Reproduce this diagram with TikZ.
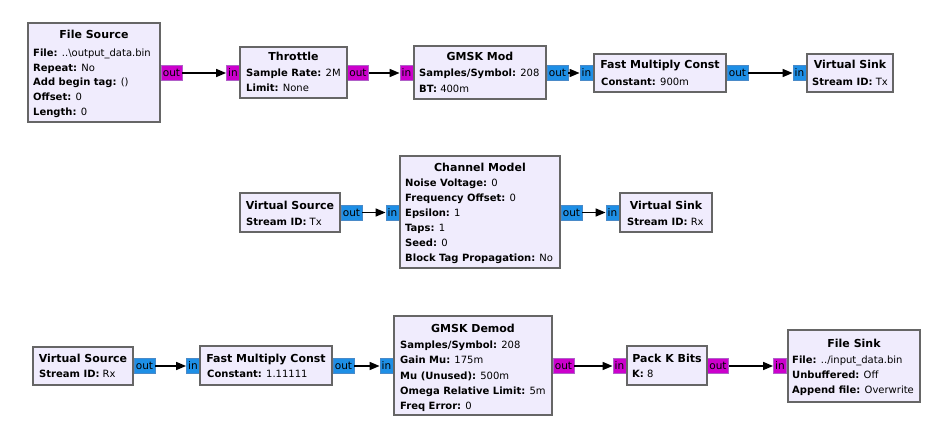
\documentclass[tikz,border=0pt]{standalone}
\usepackage{fontspec}
\setmainfont{DejaVu Sans}
\usetikzlibrary{fit,arrows.meta}
\definecolor{blkfill}{HTML}{F0ECFD}
\definecolor{blkdraw}{HTML}{666666}
\definecolor{bytefill}{HTML}{CC00CC}
\definecolor{bytedraw}{HTML}{B060C8}
\definecolor{cpxfill}{HTML}{1E8FE6}
\definecolor{cpxdraw}{HTML}{4A8AC8}
\newcommand{\pline}[5]{\node[prm] (#1) at (#2,#3+3.6) {\textbf{#4:} #5};}
\newcommand{\btitle}[4]{\node[ttl] (#1) at (#2,#3+4) {#4};}
\tikzset{
  blk/.style={draw=blkdraw, line width=1.8pt, fill=blkfill, inner sep=0pt},
  ttl/.style={font=\fontsize{11}{13}\selectfont\bfseries, anchor=base, inner sep=0pt},
  prm/.style={font=\fontsize{10}{12}\selectfont, anchor=base west, inner sep=0pt},
  portbase/.style={minimum height=15pt, inner sep=0pt, line width=0.8pt, font=\fontsize{10.5}{12}\selectfont},
  pi/.style={portbase, minimum width=13pt},
  po/.style={portbase, minimum width=21pt},
  bytep/.style={fill=bytefill, draw=bytedraw},
  cpxp/.style={fill=cpxfill, draw=cpxdraw},
  conn/.style={line width=1.6pt, -{Triangle[length=10pt,width=8pt]}}
}
\begin{document}
\begin{tikzpicture}[x=1pt,y=-1pt]
\fill[white] (0,0) rectangle (938,428);
\useasboundingbox (0,0) rectangle (938,428);
% ---- ports row 1
\node[po,bytep] (fs-out) at (171.5,73) {out};
\node[pi,bytep] (thr-in) at (233,73) {in};
\node[po,bytep] (thr-out) at (358,73) {out};
\node[pi,bytep] (gm-in) at (406.5,73) {in};
\node[po,cpxp] (gm-out) at (557.5,73) {out};
\node[pi,cpxp] (fm1-in) at (586.5,73) {in};
\node[po,cpxp] (fm1-out) at (737.5,73) {out};
\node[pi,cpxp] (vk1-in) at (799.5,73) {in};
% ---- ports row 2
\node[po,cpxp] (vs2-out) at (351.5,212.5) {out};
\node[pi,cpxp] (cm-in) at (392.5,212.5) {in};
\node[po,cpxp] (cm-out) at (571.5,212.5) {out};
\node[pi,cpxp] (vk2-in) at (612.5,212.5) {in};
% ---- ports row 3
\node[po,cpxp] (vs3-out) at (144.5,366) {out};
\node[pi,cpxp] (fm3-in) at (193,366) {in};
\node[po,cpxp] (fm3-out) at (343.5,366) {out};
\node[pi,cpxp] (gd-in) at (386.5,366) {in};
\node[po,bytep] (gd-out) at (563.5,366) {out};
\node[pi,bytep] (pk-in) at (619.5,366) {in};
\node[po,bytep] (pk-out) at (718,366) {out};
\node[pi,bytep] (fk-in) at (780,366) {in};
% ---- blocks
\node[blk, fit={(28,23) (160,122)}] (fs) {};
\node[blk, fit={(240,47) (347,98)}] (thr) {};
\node[blk, fit={(414,46) (546,99)}] (gm) {};
\node[blk, fit={(594,54) (726,92)}] (fm1) {};
\node[blk, fit={(807,54) (893,92)}] (vk1) {};
\node[blk, fit={(240,193) (340,232)}] (vs2) {};
\node[blk, fit={(400,156) (560,268)}] (cm) {};
\node[blk, fit={(620,193) (712,232)}] (vk2) {};
\node[blk, fit={(33,347) (133,385)}] (vs3) {};
\node[blk, fit={(200,346) (332,385)}] (fm3) {};
\node[blk, fit={(394,316) (552,415)}] (gd) {};
\node[blk, fit={(627,346) (707,385)}] (pk) {};
\node[blk, fit={(788,330) (920,402)}] (fk) {};
% ---- titles
\btitle{fs-t}{94}{35}{File Source}
\btitle{thr-t}{293.5}{57}{Throttle}
\btitle{gm-t}{480}{57}{GMSK Mod}
\btitle{fm1-t}{660}{65}{Fast Multiply Const}
\btitle{vk1-t}{850}{65}{Virtual Sink}
\btitle{vs2-t}{290}{205}{Virtual Source}
\btitle{cm-t}{480}{167}{Channel Model}
\btitle{vk2-t}{666}{205}{Virtual Sink}
\btitle{vs3-t}{83}{358}{Virtual Source}
\btitle{fm3-t}{266}{358}{Fast Multiply Const}
\btitle{gd-t}{473}{328}{GMSK Demod}
\btitle{pk-t}{667}{358}{Pack K Bits}
\btitle{fk-t}{854}{343}{File Sink}
% ---- parameters
\pline{fs-1}{33}{53}{File}{..\textbackslash output\_data.bin}
\pline{fs-2}{33}{67.6}{Repeat}{No}
\pline{fs-3}{33}{82.2}{Add begin tag}{()}
\pline{fs-4}{33}{96.8}{Offset}{0}
\pline{fs-5}{33}{111.4}{Length}{0}
\pline{thr-1}{246}{73}{Sample Rate}{2M}
\pline{thr-2}{246}{88}{Limit}{None}
\pline{gm-1}{419}{73}{Samples/Symbol}{208}
\pline{gm-2}{419}{88.5}{BT}{400m}
\pline{fm1-1}{601}{82}{Constant}{900m}
\pline{vk1-1}{812}{82}{Stream ID}{Tx}
\pline{vs2-1}{246}{222}{Stream ID}{Tx}
\pline{cm-1}{405}{183}{Noise Voltage}{0}
\pline{cm-2}{405}{198}{Frequency Offset}{0}
\pline{cm-3}{405}{213}{Epsilon}{1}
\pline{cm-4}{405}{228}{Taps}{1}
\pline{cm-5}{405}{243}{Seed}{0}
\pline{cm-6}{405}{258}{Block Tag Propagation}{No}
\pline{vk2-1}{627}{222}{Stream ID}{Rx}
\pline{vs3-1}{39}{374}{Stream ID}{Rx}
\pline{fm3-1}{207}{374}{Constant}{1.11111}
\pline{gd-1}{400}{345}{Samples/Symbol}{208}
\pline{gd-2}{400}{360.3}{Gain Mu}{175m}
\pline{gd-3}{400}{375.6}{Mu (Unused)}{500m}
\pline{gd-4}{400}{390.9}{Omega Relative Limit}{5m}
\pline{gd-5}{400}{406.2}{Freq Error}{0}
\pline{pk-1}{632}{374}{K}{8}
\pline{fk-1}{792}{360}{File}{../input\_data.bin}
\pline{fk-2}{792}{375}{Unbuffered}{Off}
\pline{fk-3}{792}{390}{Append file}{Overwrite}
% ---- connections
\draw[conn] (fs-out.east) -- (thr-in.west);
\draw[conn] (thr-out.east) -- (gm-in.west);
\draw[conn] (gm-out.east) -- (fm1-in.west);
\draw[conn] (fm1-out.east) -- (vk1-in.west);
\draw[conn] (vs2-out.east) -- (cm-in.west);
\draw[conn] (cm-out.east) -- (vk2-in.west);
\draw[conn] (vs3-out.east) -- (fm3-in.west);
\draw[conn] (fm3-out.east) -- (gd-in.west);
\draw[conn] (gd-out.east) -- (pk-in.west);
\draw[conn] (pk-out.east) -- (fk-in.west);
\end{tikzpicture}
\end{document}
